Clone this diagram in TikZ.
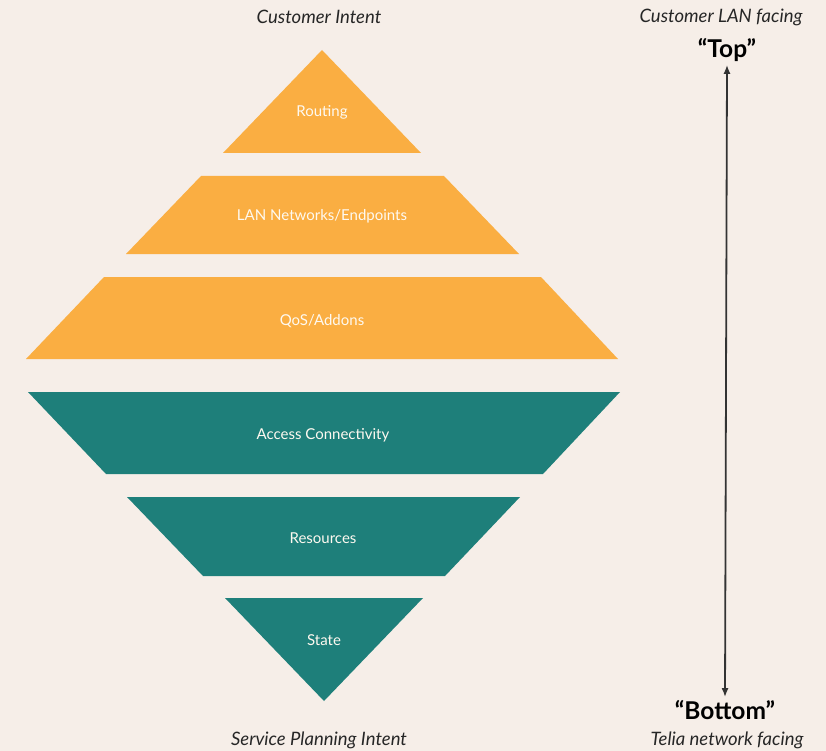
\documentclass[tikz,border=0pt]{standalone}
\usepackage{fontspec}
\setmainfont{Lato}
\usepackage{tikz}
\usetikzlibrary{arrows.meta}
\definecolor{bgcream}{HTML}{F6EEE8}
\definecolor{layerorange}{HTML}{FAAE42}
\definecolor{layerteal}{HTML}{1E7F7A}
\definecolor{arrowgray}{HTML}{333333}

\begin{document}
\begin{tikzpicture}[x=1pt,y=-1pt,
upper/.style={fill=layerorange},
lower/.style={fill=layerteal},
layer/.style={font=\fontsize{15}{18}\selectfont, text=white!92!layerorange, inner sep=0pt},
side/.style={font=\fontsize{18.5}{22}\selectfont\itshape, text=black!85, inner sep=0pt},
pole/.style={font=\fontsize{24.5}{28}\selectfont\bfseries, text=black, inner sep=0pt}]
\fill[bgcream] (0,0) rectangle (826,751);
\useasboundingbox (0,0) rectangle (826,751);
% upper pyramid
\fill[upper] (322,50) -- (421,153) -- (223,153) -- cycle;
\fill[upper] (201,176) -- (444,176) -- (519,254) -- (126,254) -- cycle;
\fill[upper] (104,277) -- (541,277) -- (618,359) -- (26,359) -- cycle;
% lower pyramid
\fill[lower] (28,392) -- (620,392) -- (543,474) -- (106,474) -- cycle;
\fill[lower] (127,497) -- (520,497) -- (445,576) -- (203,576) -- cycle;
\fill[lower] (225,598) -- (423,598) -- (324,701) -- cycle;
% labels
\node[layer] (routing) at (322,112) {Routing};
\node[layer] (lan) at (322,216) {LAN Networks/Endpoints};
\node[layer] (qos) at (322,321) {QoS/Addons};
\node[layer] (access) at (323,435) {Access Connectivity};
\node[layer] (resources) at (323,538) {Resources};
\node[layer] (state) at (324,640) {State};
\node[side] (custintent) at (319,17) {Customer Intent};
\node[side] (spintent) at (319,740) {Service Planning Intent};
\node[side] (lanfacing) at (721,17) {Customer LAN facing};
\node[side] (teliafacing) at (727,740) {Telia network facing};
\node[pole] (top) at (727,50) {“Top”};
\node[pole] (bottom) at (725,710) {“Bottom”};
\draw[arrowgray, line width=1.8pt, {Latex[length=9pt,width=7pt]}-{Latex[length=9pt,width=7pt]}]
  ([yshift=-3pt]top.south) -- ([yshift=3pt]bottom.north);
\end{tikzpicture}
\end{document}
